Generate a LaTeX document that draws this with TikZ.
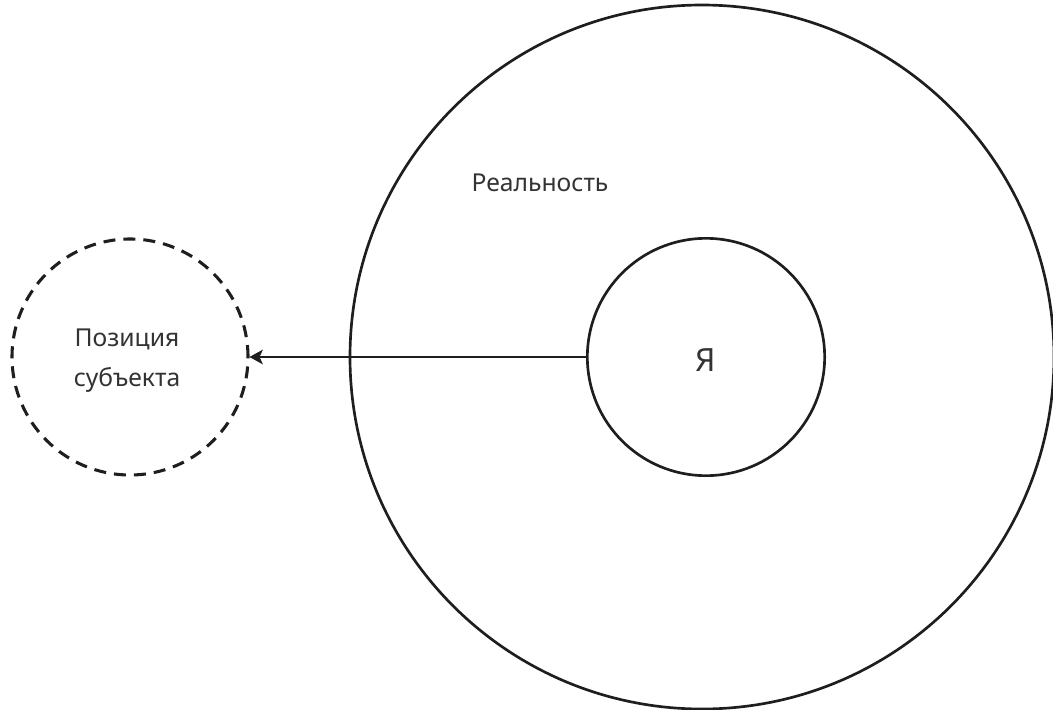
\documentclass[tikz,border=0pt]{standalone}
\usepackage{fontspec}
\setmainfont{Noto Sans}
\usetikzlibrary{arrows.meta}
\definecolor{ink}{HTML}{1E1E1E}
\definecolor{txt}{HTML}{333333}
\tikzset{
  solidring/.style={circle, draw=ink, line width=2pt, inner sep=0pt},
  dashring/.style={circle, draw=ink, line width=2.3pt, inner sep=0pt, dash pattern=on 9pt off 6pt},
  lbl/.style={text=txt, font=\fontsize{18.5}{30}\selectfont, align=center, inner sep=0pt},
  biglbl/.style={text=txt, font=\fontsize{24}{30}\selectfont, inner sep=0pt},
  conn/.style={draw=ink, line width=0.8pt, -{Stealth[length=10pt,width=11pt,inset=2.5pt,fill=ink,line width=0.5pt]}}
}
\begin{document}
\begin{tikzpicture}[x=0.75pt,y=-0.75pt]
\useasboundingbox (0,0) rectangle (1053,710);
\node[solidring, minimum size=528pt] (real) at (702,357) {};
\node[solidring, minimum size=178pt] (ya) at (706,357) {};
\node[dashring, minimum size=177pt] (pos) at (130,357) {};
\node[lbl] (reallbl) at (540,183) {Реальность};
\node[biglbl] (yalbl) at (706,360) {Я};
\node[lbl] (poslbl) at (127,361) {Позиция\\субъекта};
\draw[conn] (ya.west) -- (pos.east);
\end{tikzpicture}
\end{document}
